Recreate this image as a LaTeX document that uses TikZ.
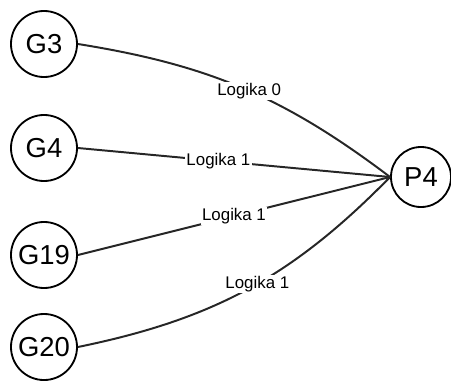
\documentclass[tikz,border=0pt]{standalone}
\usepackage{fontspec}
\setmainfont{Liberation Sans}
\usetikzlibrary{positioning}

\begin{document}
\begin{tikzpicture}[
    x=0.025cm, y=-0.025cm,
    gate/.style={draw, circle, line width=1.3pt, minimum size=1.65cm,
      inner sep=0pt, font=\fontsize{19.5}{19.5}\selectfont},
    logika/.style={fill=white, inner sep=1pt, font=\fontsize{12}{12}\selectfont},
    link/.style={line width=1.4pt, draw=black!85}
  ]
    \useasboundingbox (0,0) rectangle (451,381);

    \node[gate] (g3)  at (44,44)   {G3};
    \node[gate] (g4)  at (44,148)  {G4};
    \node[gate] (g19) at (44,255)  {G19};
    \node[gate] (g20) at (44,347)  {G20};
    \node[gate, minimum size=1.5cm] (p4) at (421,177) {P4};

    \draw[link] (g3.east) to[bend left=14]
      node[logika, pos=0.52] {Logika 0} (p4.west);
    \draw[link] (g4.east) --
      node[logika, pos=0.45] {Logika 1} (p4.west);
    \draw[link] (g19.east) --
      node[logika, pos=0.5] {Logika 1} (p4.west);
    \draw[link] (g20.east) to[bend right=17]
      node[logika, pos=0.53] {Logika 1} (p4.west);
  \end{tikzpicture}
\end{document}
